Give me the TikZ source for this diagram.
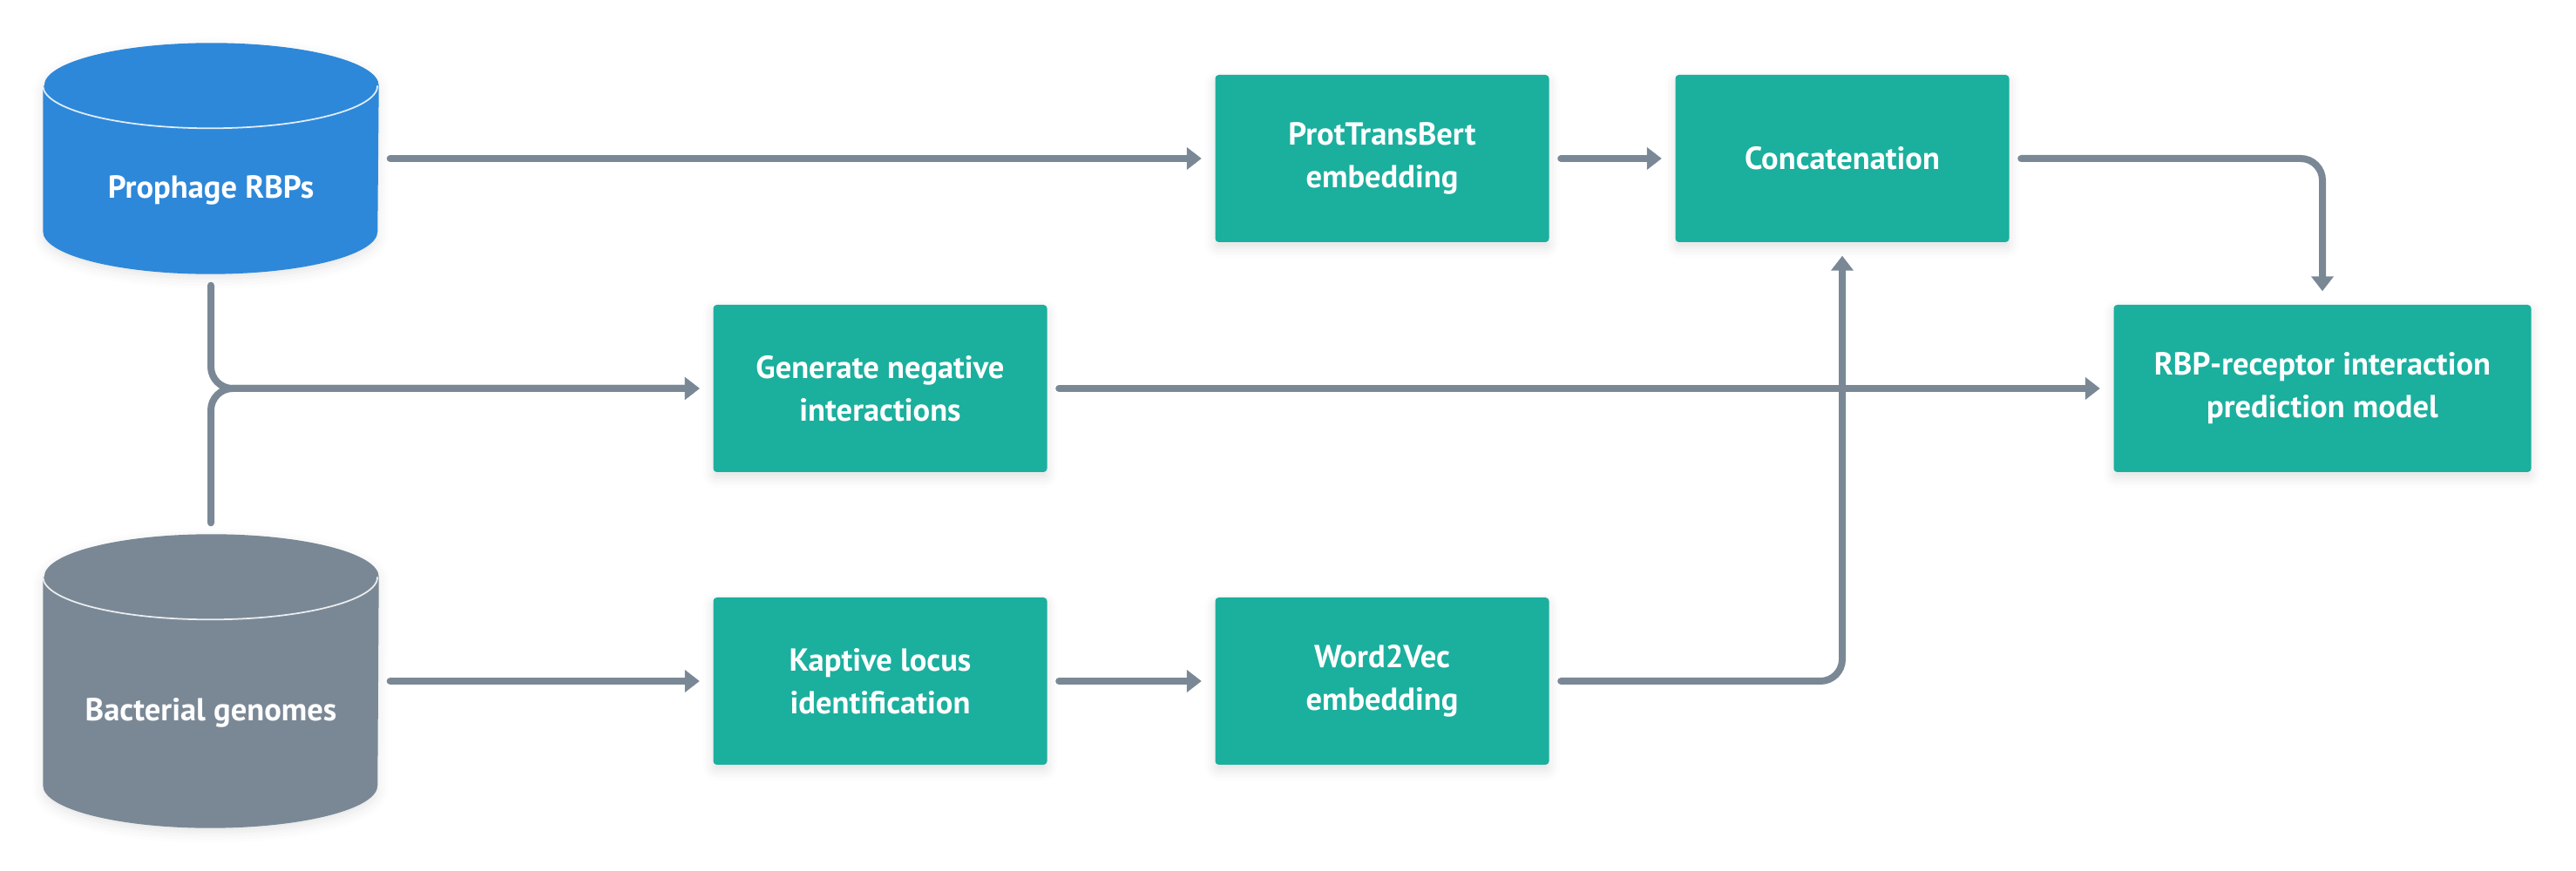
\documentclass[tikz,border=0pt]{standalone}
\usepackage{fontspec}
\setmainfont{PT Sans}
\usetikzlibrary{positioning, arrows.meta, calc, shadows.blur}

\definecolor{dbblue}{HTML}{2E88D9}
\definecolor{dbgray}{HTML}{7A8896}
\definecolor{stepteal}{HTML}{1BAF9E}
\definecolor{linkgray}{HTML}{7A8896}

% cylinder drawn round an empty node: #1 node, #2 colour
\newcommand{\dbdrum}[2]{%
  \fill[#2, blur shadow={shadow xshift=0pt, shadow yshift=-0.5mm, shadow blur radius=1.2mm, shadow opacity=10}]
    ($(#1.north west)+(0,-0.49)$) -- ($(#1.south west)+(0,0.49)$)
    arc[start angle=180, end angle=360, x radius=1.92, y radius=0.49]
    -- ($(#1.north east)+(0,-0.49)$)
    arc[start angle=0, end angle=180, x radius=1.92, y radius=0.49] -- cycle;
  \draw[white!85!#2, line width=0.5pt]
    ($(#1.north west)+(0,-0.49)$)
    arc[start angle=180, end angle=360, x radius=1.92, y radius=0.49];
}

\begin{document}
\begin{tikzpicture}[
    % shapes
    dbshape/.style={
        rectangle,
        inner sep=0pt,
        minimum width=3.84cm
    },
    dblabel/.style={
        text=white,
        font=\fontsize{10.4}{14}\selectfont\bfseries
    },
    stepbox/.style={
        rectangle,
        rounded corners=0.4mm,
        fill=stepteal,
        text=white,
        align=center,
        minimum width=3.83cm,
        minimum height=1.92cm,
        font=\fontsize{10.4}{14}\selectfont\bfseries,
        blur shadow={shadow xshift=0pt, shadow yshift=-0.6mm, shadow blur radius=1.2mm, shadow opacity=12}
    },
    link/.style={
        -{Triangle[length=1.7mm, width=2.5mm]},
        line width=0.8mm,
        linkgray,
        line cap=round,
        shorten <=0.13cm,
        shorten >=0.15cm
    }
]
\useasboundingbox (0,0) rectangle (29.56,-10);

% === Left: databases ===
\node[dbshape, minimum height=2.64cm] (rbpsdb) at (2.42, -1.82) {};
\node[dbshape, minimum height=3.36cm] (bactdb) at (2.42, -7.82) {};
\dbdrum{rbpsdb}{dbblue}
\dbdrum{bactdb}{dbgray}
\node[dblabel] (rbps) at (2.42, -2.18) {Prophage RBPs};
\node[dblabel] (bact) at (2.42, -8.18) {Bacterial genomes};

% === Processing steps ===
\node[stepbox] (prot) at (15.86, -1.82) {ProtTransBert\\embedding};
\node[stepbox] (concat) at (21.14, -1.82) {Concatenation};
\node[stepbox] (negative) at (10.10, -4.46) {Generate negative\\interactions};
\node[stepbox] (kaptive) at (10.10, -7.82) {Kaptive locus\\identification};
\node[stepbox] (wordvec) at (15.86, -7.82) {Word2Vec\\embedding};
\node[stepbox, minimum width=4.79cm] (model) at (26.65, -4.46) {RBP-receptor interaction\\prediction model};

% === Arrows ===
\draw[link] (rbpsdb.east) -- (prot.west);
\draw[link] (prot) -- (concat);
\draw[link, rounded corners=0.25cm] (concat.east) -- (concat.east -| model.north) -- (model.north);
\draw[link, rounded corners=0.25cm] (rbpsdb.south) -- (rbpsdb.south |- negative.west) -- (negative.west);
\draw[link, rounded corners=0.25cm] (bactdb.north) -- (bactdb.north |- negative.west) -- (negative.west);
\draw[link] (negative) -- (model);
\draw[link] (bactdb.east) -- (kaptive.west);
\draw[link] (kaptive) -- (wordvec);
\draw[link, rounded corners=0.25cm] (wordvec.east) -- (wordvec.east -| concat.south) -- (concat.south);

\end{tikzpicture}
\end{document}
